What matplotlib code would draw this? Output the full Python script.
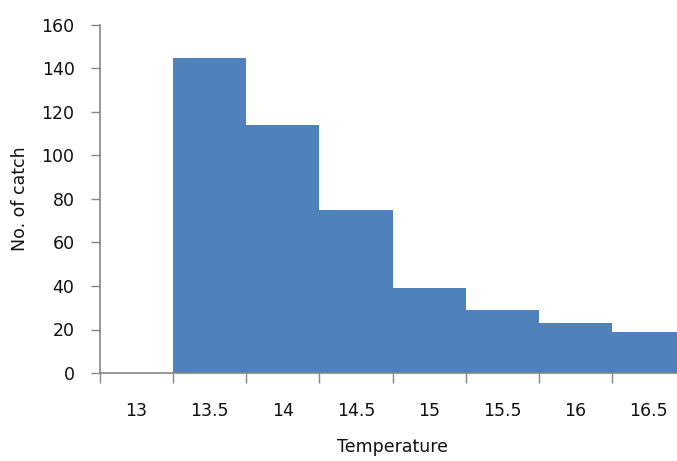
import matplotlib
matplotlib.use("Agg")
import matplotlib.pyplot as plt
import numpy as np

# temperature classes and catch counts
temps = ["13", "13.5", "14", "14.5", "15", "15.5", "16", "16.5"]
catch = [0, 145, 114, 75, 39, 29, 23, 19]
y_ticks = [0, 20, 40, 60, 80, 100, 120, 140, 160]

fig = plt.figure(figsize=(6.77, 4.61), dpi=100)
ax = fig.add_axes([99.5 / 677, 1 - 373 / 461, 586 / 677, 348 / 461])

x = np.arange(len(temps))
ax.bar(x, catch, width=1.0, color="#4F81BD", linewidth=0)

ax.set_xlim(-0.5, len(temps) - 0.5)
ax.set_ylim(0, 160)

axis_col = "#868686"
for s in ["top", "right"]:
    ax.spines[s].set_visible(False)
for s in ["left", "bottom"]:
    ax.spines[s].set_color(axis_col)
    ax.spines[s].set_linewidth(1.2)

ax.set_yticks(y_ticks)
ax.tick_params(axis="y", direction="out", length=6.5, width=1.0, color=axis_col,
               pad=11.5, labelsize=12.5, labelcolor="#111111")

# labels at class centres, tick marks on the class boundaries
ax.set_xticks(x)
ax.set_xticklabels(temps)
ax.set_xticks(np.arange(-0.5, len(temps)), minor=True)
ax.tick_params(axis="x", which="major", length=0, pad=21, labelsize=12.5,
               labelcolor="#111111")
ax.tick_params(axis="x", which="minor", direction="out", length=7, width=1.0,
               color=axis_col)

ax.set_xlabel("Temperature", fontsize=12.5, labelpad=13, color="#111111")
ax.set_ylabel("No. of catch", fontsize=12.5, labelpad=9, color="#111111")

fig.savefig("out.png", dpi=100)
